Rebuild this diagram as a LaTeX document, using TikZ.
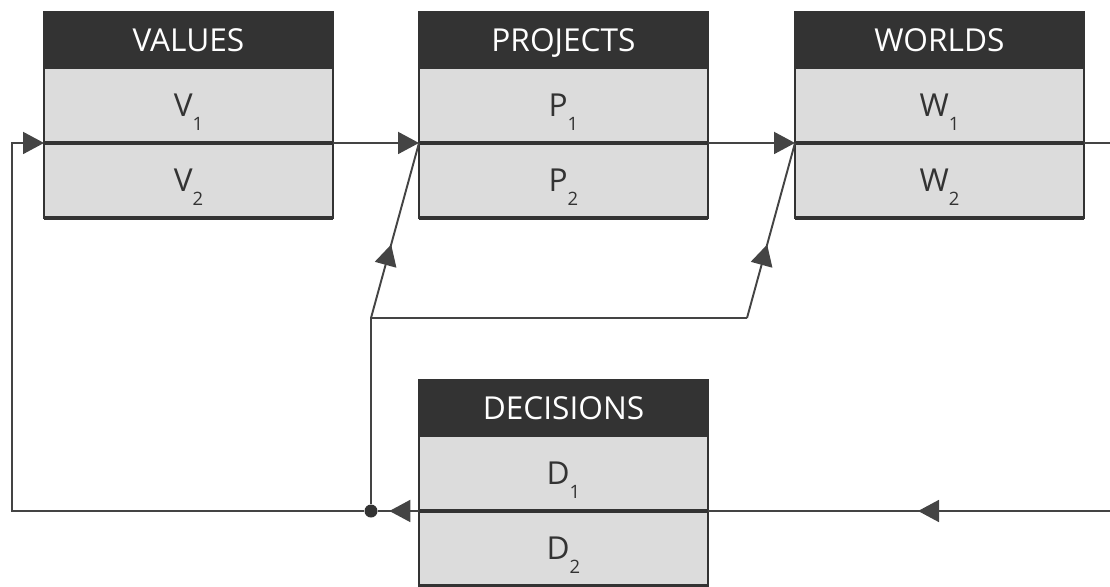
\documentclass[tikz,border=0pt]{standalone}
\usepackage{fontspec}
\setmainfont{Open Sans}
\usetikzlibrary{arrows.meta,positioning,decorations.markings}

\definecolor{boxdark}{HTML}{333333}
\definecolor{boxlight}{HTML}{DCDCDC}
\definecolor{wire}{HTML}{444444}
\newcommand{\idx}[1]{\raisebox{-0.42em}[0pt][0pt]{\fontsize{10.5}{11}\selectfont #1}}

\begin{document}
\begin{tikzpicture}[
    x=0.02cm, y=-0.02cm,
    head/.style={draw=boxdark, fill=boxdark, text=white, line width=1.2pt,
                 minimum width=5.78cm, minimum height=1.12cm, inner sep=0pt,
                 text height=12.8pt, text depth=0pt,
                 outer sep=0pt, anchor=north west, font=\fontsize{18}{20}\selectfont},
    cell/.style={draw=boxdark, fill=boxlight, text=boxdark, line width=1.5pt,
                 minimum width=5.78cm, minimum height=1.5cm, inner sep=0pt,
                 text height=12.8pt, text depth=0pt,
                 outer sep=0pt, font=\fontsize{18}{20}\selectfont},
    sepline/.style={draw=boxdark, line width=2.4pt},
    wire/.style={draw=wire, line width=1.1pt},
    tipend/.style={-{Triangle[length=0.42cm, width=0.44cm]}},
    midtip/.style={postaction={decorate}, decoration={markings,
        mark=at position #1 with {\arrow[wire]{Triangle[length=0.42cm, width=0.44cm]}}}},
    dot/.style={circle, fill=boxdark, inner sep=0pt, minimum size=0.26cm},
  ]
    \useasboundingbox (0,0) rectangle (1110,586);
    \clip (0,0) rectangle (1110,586);

    % boxes
    \node[head] (vh) at (44,12)  {VALUES};
    \node[cell, below=0pt of vh] (v1) {V\idx{1}};
    \node[cell, below=0pt of v1] (v2) {V\idx{2}};

    \node[head] (ph) at (419,12) {PROJECTS};
    \node[cell, below=0pt of ph] (p1) {P\idx{1}};
    \node[cell, below=0pt of p1] (p2) {P\idx{2}};

    \node[head] (wh) at (795,12) {WORLDS};
    \node[cell, below=0pt of wh] (w1) {W\idx{1}};
    \node[cell, below=0pt of w1] (w2) {W\idx{2}};

    \node[head] (dh) at (419,380) {DECISIONS};
    \node[cell, below=0pt of dh] (d1) {D\idx{1}};
    \node[cell, below=0pt of d1] (d2) {D\idx{2}};

    \foreach \b in {v,p,w,d} {
      \draw[sepline] (\b1.south west) -- (\b1.south east);
      \draw[sepline] (\b2.south west) -- (\b2.south east);
    }

    % loose ends and bends
    \node[dot] (j) at (371,511) {};
    \coordinate (lb) at (12,511);
    \coordinate (sp) at (371,318);
    \coordinate (bn) at (747,318);
    \coordinate (rt) at (1112,143);
    \coordinate (rb) at (1112,511);

    % forward line
    \draw[wire, tipend] (v1.south east) -- (p1.south west);
    \draw[wire, tipend] (p1.south east) -- (w1.south west);
    \draw[wire] (w1.south east) -- (rt);

    % feedback line
    \draw[wire, midtip=0.48] (rb) -- (d1.south east);
    \draw[wire, midtip=0.72] (d1.south west) -- (j);
    \draw[wire, tipend] (j) -- (lb) |- (v1.south west);
    \draw[wire] (j) -- (sp) -- (bn);
    \draw[wire, midtip=0.42] (sp) -- (p1.south west);
    \draw[wire, midtip=0.42] (bn) -- (w1.south west);
  \end{tikzpicture}
\end{document}
